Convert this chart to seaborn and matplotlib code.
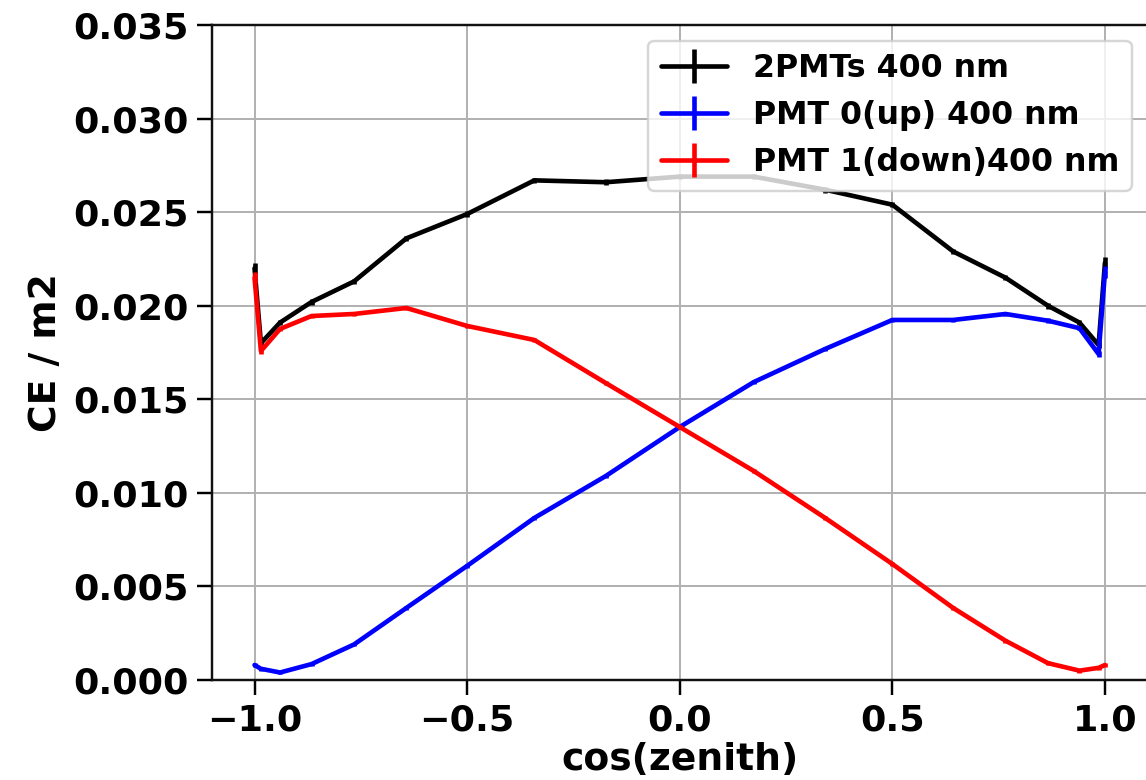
import matplotlib
matplotlib.use("Agg")
import matplotlib.pyplot as plt
import seaborn as sns
import pandas as pd
from matplotlib.lines import Line2D
from matplotlib.legend_handler import HandlerTuple

# cos(zenith) sample points (10 degree steps)
cos_zenith = [-1.0, -0.985, -0.94, -0.866, -0.766, -0.643, -0.5, -0.342, -0.174, 0.0,
              0.174, 0.342, 0.5, 0.643, 0.766, 0.866, 0.94, 0.985, 1.0]

ce_2pmts = [0.0220, 0.0180, 0.0191, 0.0202, 0.0213, 0.0236, 0.0249, 0.0267, 0.0266, 0.0269,
            0.0269, 0.0262, 0.0254, 0.0229, 0.0215, 0.0200, 0.0191, 0.0179, 0.0223]
ce_pmt0 = [0.0008, 0.0006, 0.0004, 0.00085, 0.0019, 0.00385, 0.0061, 0.00866, 0.0109, 0.01352,
           0.01592, 0.01769, 0.01924, 0.01924, 0.01956, 0.0192, 0.0188, 0.01742, 0.0218]
ce_pmt1 = [0.0215, 0.01758, 0.01876, 0.01945, 0.01956, 0.01988, 0.01892, 0.01817, 0.01587, 0.01352,
           0.01117, 0.00866, 0.0062, 0.00385, 0.0021, 0.0009, 0.0005, 0.00065, 0.0008]

err_2pmts = [0.0003, 0.00015, 0.00015, 0.00015, 0.00015, 0.00015, 0.00015, 0.00015, 0.00015, 0.00015,
             0.00015, 0.00015, 0.00015, 0.00015, 0.00015, 0.00015, 0.00015, 0.00015, 0.0003]
err_pmt0 = [0.0001, 0.0001, 0.0001, 0.0001, 0.0001, 0.0001, 0.0001, 0.00012, 0.00012, 0.00012,
            0.00012, 0.00012, 0.00012, 0.00012, 0.00012, 0.00012, 0.00012, 0.00015, 0.0003]
err_pmt1 = [0.0003, 0.00015, 0.00012, 0.00012, 0.00012, 0.00012, 0.00012, 0.00012, 0.00012, 0.00012,
            0.00012, 0.00012, 0.0001, 0.0001, 0.0001, 0.0001, 0.0001, 0.0001, 0.0001]

labels = ["2PMTs 400 nm", "PMT 0(up) 400 nm", "PMT 1(down)400 nm"]
colors = ["black", "blue", "red"]

x_ticks = [-1.0, -0.5, 0.0, 0.5, 1.0]
y_ticks = [0.000, 0.005, 0.010, 0.015, 0.020, 0.025, 0.030, 0.035]

sns.set_style("ticks")
plt.rcParams["font.family"] = ["DejaVu Sans"]
plt.rcParams["font.weight"] = "bold"
plt.rcParams["text.color"] = "black"
plt.rcParams["axes.labelcolor"] = "black"
plt.rcParams["xtick.color"] = "black"
plt.rcParams["ytick.color"] = "black"
plt.rcParams["axes.edgecolor"] = "black"

DPI = 175
fig = plt.figure(figsize=(1146 / DPI, 780 / DPI), dpi=DPI)
ax = fig.add_axes([0.185, 0.1282, 0.8163, 0.8397])

series = [ce_2pmts, ce_pmt0, ce_pmt1]
errs = [err_2pmts, err_pmt0, err_pmt1]
handles = []
for ys, es, c, lab in zip(series, errs, colors, labels):
    df = pd.DataFrame({"x": cos_zenith, "y": ys})
    sns.lineplot(data=df, x="x", y="y", color=c, lw=1.9, ax=ax, legend=False,
                 errorbar=None, sort=False)
    ax.errorbar(cos_zenith, ys, yerr=es, fmt="none", ecolor=c, elinewidth=1.9)
    h = (Line2D([], [], color=c, lw=1.9),
         Line2D([], [], color=c, marker="|", ls="none", markersize=14, markeredgewidth=1.9))
    handles.append(h)

ax.set_xlim(-1.1, 1.1)
ax.set_ylim(0, 0.035)
ax.set_xticks(x_ticks)
ax.set_yticks(y_ticks)
ax.set_xticklabels([f"{v:.1f}".replace("-", "\u2212") for v in x_ticks])
ax.set_yticklabels([f"{v:.3f}" for v in y_ticks])
ax.tick_params(labelsize=15, width=1.0, length=6, colors="black")
for lbl in ax.get_xticklabels() + ax.get_yticklabels():
    lbl.set_fontweight("bold")
ax.grid(True, color="#b0b0b0", lw=0.8)
for s in ax.spines.values():
    s.set_linewidth(1.0)
    s.set_color("#111111")

ax.set_xlabel("cos(zenith)", fontsize=15.5, fontweight="bold", labelpad=2)
ax.set_ylabel("CE / m2", fontsize=15.5, fontweight="bold", labelpad=4)

ax.legend(handles, labels, handler_map={tuple: HandlerTuple(ndivide=1)},
          loc="upper right", prop={"weight": "bold", "size": 13}, framealpha=0.8,
          handlelength=2.1)

fig.savefig("out.png", dpi=DPI)
